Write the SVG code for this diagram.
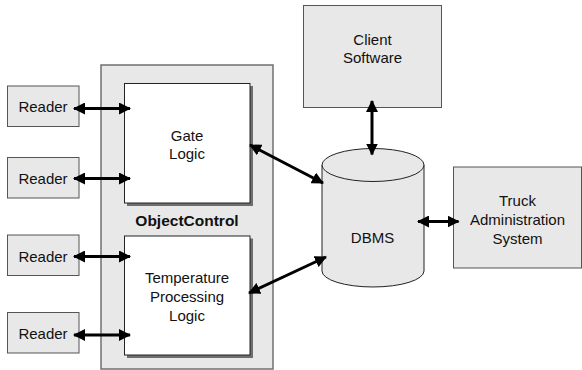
<svg xmlns="http://www.w3.org/2000/svg" width="582" height="370" viewBox="0 0 582 370">
  <defs>
    <marker id="head" viewBox="0 0 12 12" refX="11" refY="6" markerWidth="12" markerHeight="12" markerUnits="userSpaceOnUse" orient="auto-start-reverse">
      <path d="M0,0 L12,6 L0,12 Z" fill="#000"/>
    </marker>
  </defs>
  <style>
    .box { fill: #e8e8e8; stroke: #555; stroke-width: 1; }
    .frame { fill: #e8e8e8; stroke: #707070; stroke-width: 1.5; }
    .inner { fill: #fff; stroke: #222; stroke-width: 1; }
    .shadow { fill: #6e6e6e; }
    .db { fill: #e8e8e8; stroke: #222; stroke-width: 1; }
    .label { font-family: "Liberation Sans", Arial, sans-serif; font-size: 15px; fill: #111; text-anchor: middle; }
    .bold { font-weight: bold; font-size: 15.5px; }
    .link { stroke: #000; stroke-width: 3; fill: none; marker-start: url(#head); marker-end: url(#head); }
  </style>

  <!-- ObjectControl container with its two logic blocks -->
  <g id="objectcontrol">
    <rect class="frame" x="101" y="65" width="172" height="304"/>
    <text class="label bold" x="187" y="225.5">ObjectControl</text>
  </g>
  <g id="gate-logic">
    <rect class="shadow" x="127" y="86" width="126" height="120"/>
    <rect class="inner" x="124.5" y="83.5" width="125.5" height="119.5"/>
    <text class="label" x="187" y="141">Gate</text>
    <text class="label" x="187" y="159">Logic</text>
  </g>
  <g id="temperature-logic">
    <rect class="shadow" x="127" y="238.5" width="126" height="119.5"/>
    <rect class="inner" x="124.5" y="236" width="125.5" height="119"/>
    <text class="label" x="187" y="282.5">Temperature</text>
    <text class="label" x="187" y="301.5">Processing</text>
    <text class="label" x="187" y="320.5">Logic</text>
  </g>

  <!-- Readers -->
  <g id="reader-1">
    <rect class="box" x="7.5" y="86" width="71.5" height="40.5"/>
    <text class="label" x="43" y="112">Reader</text>
  </g>
  <g id="reader-2">
    <rect class="box" x="7.5" y="157.5" width="71.5" height="40.5"/>
    <text class="label" x="43" y="183.5">Reader</text>
  </g>
  <g id="reader-3">
    <rect class="box" x="7.5" y="235" width="71.5" height="40.5"/>
    <text class="label" x="43" y="261.5">Reader</text>
  </g>
  <g id="reader-4">
    <rect class="box" x="7.5" y="312.5" width="71.5" height="40.5"/>
    <text class="label" x="43" y="339">Reader</text>
  </g>

  <!-- Client software -->
  <g id="client-software">
    <rect class="box" x="303.5" y="5.5" width="138" height="102"/>
    <text class="label" x="372.5" y="45">Client</text>
    <text class="label" x="372.5" y="63">Software</text>
  </g>

  <!-- Database cylinder -->
  <g id="dbms">
    <path class="db" d="M322,165 L322,271 A51,16 0 0 0 424,271 L424,165"/>
    <ellipse class="db" cx="373" cy="165" rx="51" ry="16.5"/>
    <text class="label" x="372.5" y="242.5">DBMS</text>
  </g>

  <!-- Truck administration -->
  <g id="truck-admin">
    <rect class="box" x="453.5" y="167" width="128" height="101"/>
    <text class="label" x="517.5" y="205.5">Truck</text>
    <text class="label" x="517.5" y="225">Administration</text>
    <text class="label" x="517.5" y="244">System</text>
  </g>

  <!-- Two-way links -->
  <g id="connectors">
    <line class="link" x1="74" y1="108.5" x2="130" y2="108.5"/>
    <line class="link" x1="74" y1="178.5" x2="130" y2="178.5"/>
    <line class="link" x1="74" y1="256.5" x2="130" y2="256.5"/>
    <line class="link" x1="74" y1="335" x2="130" y2="335"/>
    <line class="link" x1="250" y1="145" x2="323" y2="183"/>
    <line class="link" x1="249" y1="293" x2="326" y2="257"/>
    <line class="link" x1="372" y1="101" x2="372" y2="154.5"/>
    <line class="link" x1="418" y1="221.5" x2="458.5" y2="221.5"/>
  </g>
</svg>
